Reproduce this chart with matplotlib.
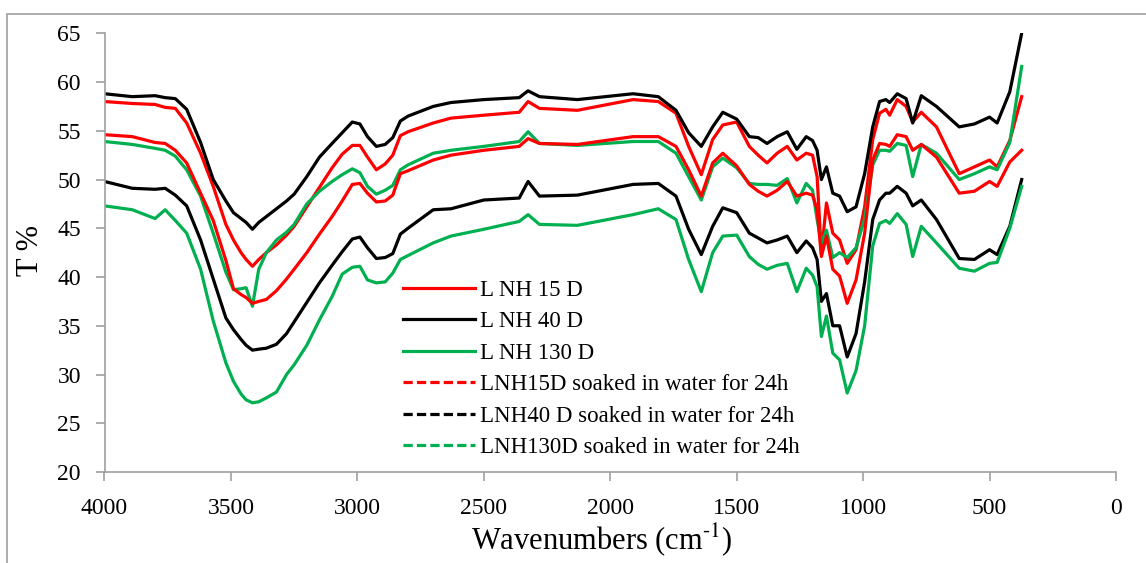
import matplotlib
matplotlib.use("Agg")
import matplotlib.pyplot as plt
from matplotlib.lines import Line2D
from matplotlib.patches import Rectangle

plt.rcParams['font.family'] = ['Liberation Serif', 'DejaVu Serif']
plt.rcParams['mathtext.fontset'] = 'stix'

# Wavenumbers (cm-1)
wavenumber = [4000, 3890, 3800, 3760, 3720, 3675, 3620, 3570, 3520, 3490, 3460, 3440, 3415,
              3390, 3360, 3320, 3280, 3250, 3200, 3150, 3100, 3060, 3020, 2990, 2960, 2925,
              2890, 2860, 2830, 2800, 2700, 2630, 2500, 2360, 2325, 2280, 2130, 1910, 1810,
              1740, 1690, 1640, 1595, 1555, 1500, 1450, 1415, 1380, 1340, 1300, 1262, 1225,
              1200, 1182, 1165, 1145, 1120, 1093, 1063, 1028, 994, 962, 935, 910, 895, 865,
              830, 804, 770, 710, 620, 560, 500, 470, 420, 373]

lnh15 = [58.0, 57.8, 57.7, 57.4, 57.3, 55.8, 52.7, 49.3, 45.4, 43.8, 42.5, 41.8, 41.1,
         41.8, 42.5, 43.3, 44.3, 45.2, 47.2, 49.2, 51.2, 52.6, 53.5, 53.5, 52.3, 51.0,
         51.6, 52.5, 54.5, 54.9, 55.8, 56.3, 56.6, 56.9, 58.0, 57.3, 57.1, 58.2, 58.0,
         56.8, 53.4, 50.5, 54.1, 55.6, 55.9, 53.4, 52.5, 51.7, 52.7, 53.4, 52.0, 52.7,
         52.5, 50.3, 42.4, 47.6, 44.5, 43.8, 41.4, 42.8, 47.2, 54.1, 56.8, 57.2, 56.6, 58.2,
         57.5, 55.9, 56.9, 55.4, 50.6, 51.3, 52.0, 51.3, 54.0, 58.5]

lnh40 = [58.8, 58.5, 58.6, 58.4, 58.3, 57.2, 53.8, 50.0, 47.8, 46.6, 46.0, 45.6, 44.9,
         45.6, 46.2, 47.0, 47.8, 48.5, 50.3, 52.3, 53.7, 54.8, 55.9, 55.7, 54.4, 53.4,
         53.6, 54.3, 56.0, 56.5, 57.5, 57.9, 58.2, 58.4, 59.1, 58.5, 58.2, 58.8, 58.5,
         57.1, 54.8, 53.4, 55.4, 56.9, 56.2, 54.4, 54.3, 53.7, 54.4, 54.9, 53.1, 54.4,
         54.0, 53.0, 50.0, 51.3, 48.6, 48.3, 46.7, 47.2, 50.6, 55.4, 58.0, 58.2, 57.9, 58.8,
         58.3, 55.8, 58.6, 57.5, 55.4, 55.7, 56.4, 55.8, 59.0, 65.0]

lnh130 = [53.9, 53.6, 53.2, 53.0, 52.4, 51.0, 48.3, 44.5, 40.5, 38.7, 38.8, 38.9, 37.0,
          40.8, 42.5, 43.8, 44.6, 45.4, 47.5, 48.8, 49.8, 50.5, 51.1, 50.7, 49.3, 48.5,
          48.9, 49.4, 51.0, 51.5, 52.7, 53.0, 53.4, 53.9, 54.9, 53.7, 53.5, 53.9, 53.9,
          52.7, 50.3, 47.9, 51.3, 52.2, 51.2, 49.6, 49.5, 49.5, 49.4, 50.1, 47.6, 49.6,
          48.9, 45.9, 43.5, 44.8, 42.0, 42.5, 42.0, 43.0, 46.0, 51.5, 53.0, 53.0, 52.9, 53.7,
          53.5, 50.3, 53.6, 52.7, 50.0, 50.6, 51.3, 51.0, 53.8, 61.6]

lnh15_soaked = [54.6, 54.4, 53.8, 53.7, 53.0, 51.7, 48.6, 45.8, 41.7, 38.8, 38.2, 37.9, 37.3,
                37.5, 37.7, 38.6, 39.8, 40.8, 42.5, 44.4, 46.2, 47.8, 49.5, 49.6, 48.6, 47.7,
                47.8, 48.4, 50.6, 50.9, 52.0, 52.5, 53.0, 53.4, 54.2, 53.7, 53.6, 54.4, 54.4,
                53.4, 51.0, 48.3, 51.7, 52.7, 51.4, 49.5, 48.8, 48.3, 48.9, 49.8, 48.3, 48.6,
                48.4, 46.9, 42.1, 44.2, 40.8, 40.1, 37.3, 39.7, 44.5, 52.0, 53.7, 53.6, 53.4, 54.6,
                54.4, 53.0, 53.6, 52.3, 48.6, 48.8, 49.8, 49.3, 51.8, 53.0]

lnh40_soaked = [49.8, 49.1, 49.0, 49.1, 48.4, 47.3, 43.8, 39.8, 35.8, 34.6, 33.6, 33.0, 32.5,
                32.6, 32.7, 33.1, 34.2, 35.4, 37.4, 39.4, 41.2, 42.6, 43.9, 44.1, 43.0, 41.9,
                42.0, 42.4, 44.4, 45.0, 46.9, 47.0, 47.9, 48.1, 49.8, 48.3, 48.4, 49.5, 49.6,
                48.3, 44.9, 42.3, 45.2, 47.1, 46.6, 44.5, 44.0, 43.5, 43.8, 44.2, 42.5, 43.7,
                43.0, 41.8, 37.5, 38.3, 35.0, 35.0, 31.8, 34.2, 39.5, 45.9, 47.9, 48.6, 48.6, 49.3,
                48.6, 47.3, 47.9, 45.9, 41.9, 41.8, 42.8, 42.3, 45.2, 50.0]

lnh130_soaked = [47.3, 46.9, 46.0, 46.9, 45.8, 44.5, 40.8, 35.5, 31.2, 29.3, 28.0, 27.4, 27.1,
                 27.2, 27.6, 28.2, 30.0, 31.0, 33.0, 35.6, 38.0, 40.3, 41.0, 41.1, 39.7, 39.4,
                 39.5, 40.4, 41.8, 42.2, 43.5, 44.2, 44.9, 45.7, 46.4, 45.4, 45.3, 46.4, 47.0,
                 45.9, 41.8, 38.5, 42.5, 44.2, 44.3, 42.1, 41.3, 40.8, 41.2, 41.4, 38.5, 40.9,
                 40.2, 39.0, 33.9, 36.0, 32.2, 31.5, 28.1, 30.4, 35.0, 43.2, 45.5, 45.8, 45.5, 46.5,
                 45.4, 42.1, 45.2, 43.5, 40.9, 40.6, 41.4, 41.5, 45.0, 49.3]

labels = ["L NH 15 D", "L NH 40 D", "L NH 130 D",
          "LNH15D soaked in water for 24h", "LNH40 D soaked in water for 24h",
          "LNH130D soaked in water for 24h"]
series = [lnh15, lnh40, lnh130, lnh15_soaked, lnh40_soaked, lnh130_soaked]
colors = ['#FF0000', '#000000', '#00B050', '#FF0000', '#000000', '#00B050']
dashed = [False, False, False, True, True, True]

W, H = 1146, 563
fig = plt.figure(figsize=(W / 100, H / 100), dpi=100)
ax = fig.add_axes([104.5 / W, 1 - 472 / H, (1116 - 104.5) / W, (472 - 33.3) / H])

# outer chart border
fig.patches.append(Rectangle((7 / W, -0.1), 1.2, 1.1 - 14 / H, transform=fig.transFigure,
                             fill=False, edgecolor='#A0A0A0', linewidth=1.2))

lw = 2.3
handles = []
for y, c, d, lab in zip(series, colors, dashed, labels):
    ax.plot(wavenumber, y, color=c, linewidth=lw, solid_joinstyle='round')
    if d:
        h = Line2D([0], [0], color=c, linewidth=lw, dashes=(2.9, 1.3))
    else:
        h = Line2D([0], [0], color=c, linewidth=lw)
    handles.append(h)

ax.set_xlim(4000, 0)
ax.set_ylim(20, 65)
ax.set_xticks(range(0, 4001, 500))
ax.set_yticks(range(20, 66, 5))
for s in ['top', 'right']:
    ax.spines[s].set_visible(False)
for s in ['left', 'bottom']:
    ax.spines[s].set_color('#A0A0A0')
    ax.spines[s].set_linewidth(1.2)
ax.tick_params(axis='both', colors='#A0A0A0', labelcolor='black', labelsize=17,
               length=6.5, width=1.2, direction='out')
ax.tick_params(axis='x', pad=12.5)
ax.tick_params(axis='y', pad=10.5)

fig.text(602 / W, 1 - 549 / H, 'Wavenumbers (cm$^{\\text{-1}}$)', fontsize=22,
         ha='center', va='baseline')
fig.text(30 / W, 1 - 251 / H, 'T %', fontsize=22, rotation=90, ha='center', va='center')

leg = ax.legend(handles, labels, loc='upper left',
                bbox_to_anchor=(403 / W, 1 - 279.5 / H), bbox_transform=fig.transFigure,
                frameon=False, fontsize=16.5, handlelength=3.14, handletextpad=0.22,
                labelspacing=0.46, borderpad=0, borderaxespad=0)

fig.savefig('out.png', dpi=100)
